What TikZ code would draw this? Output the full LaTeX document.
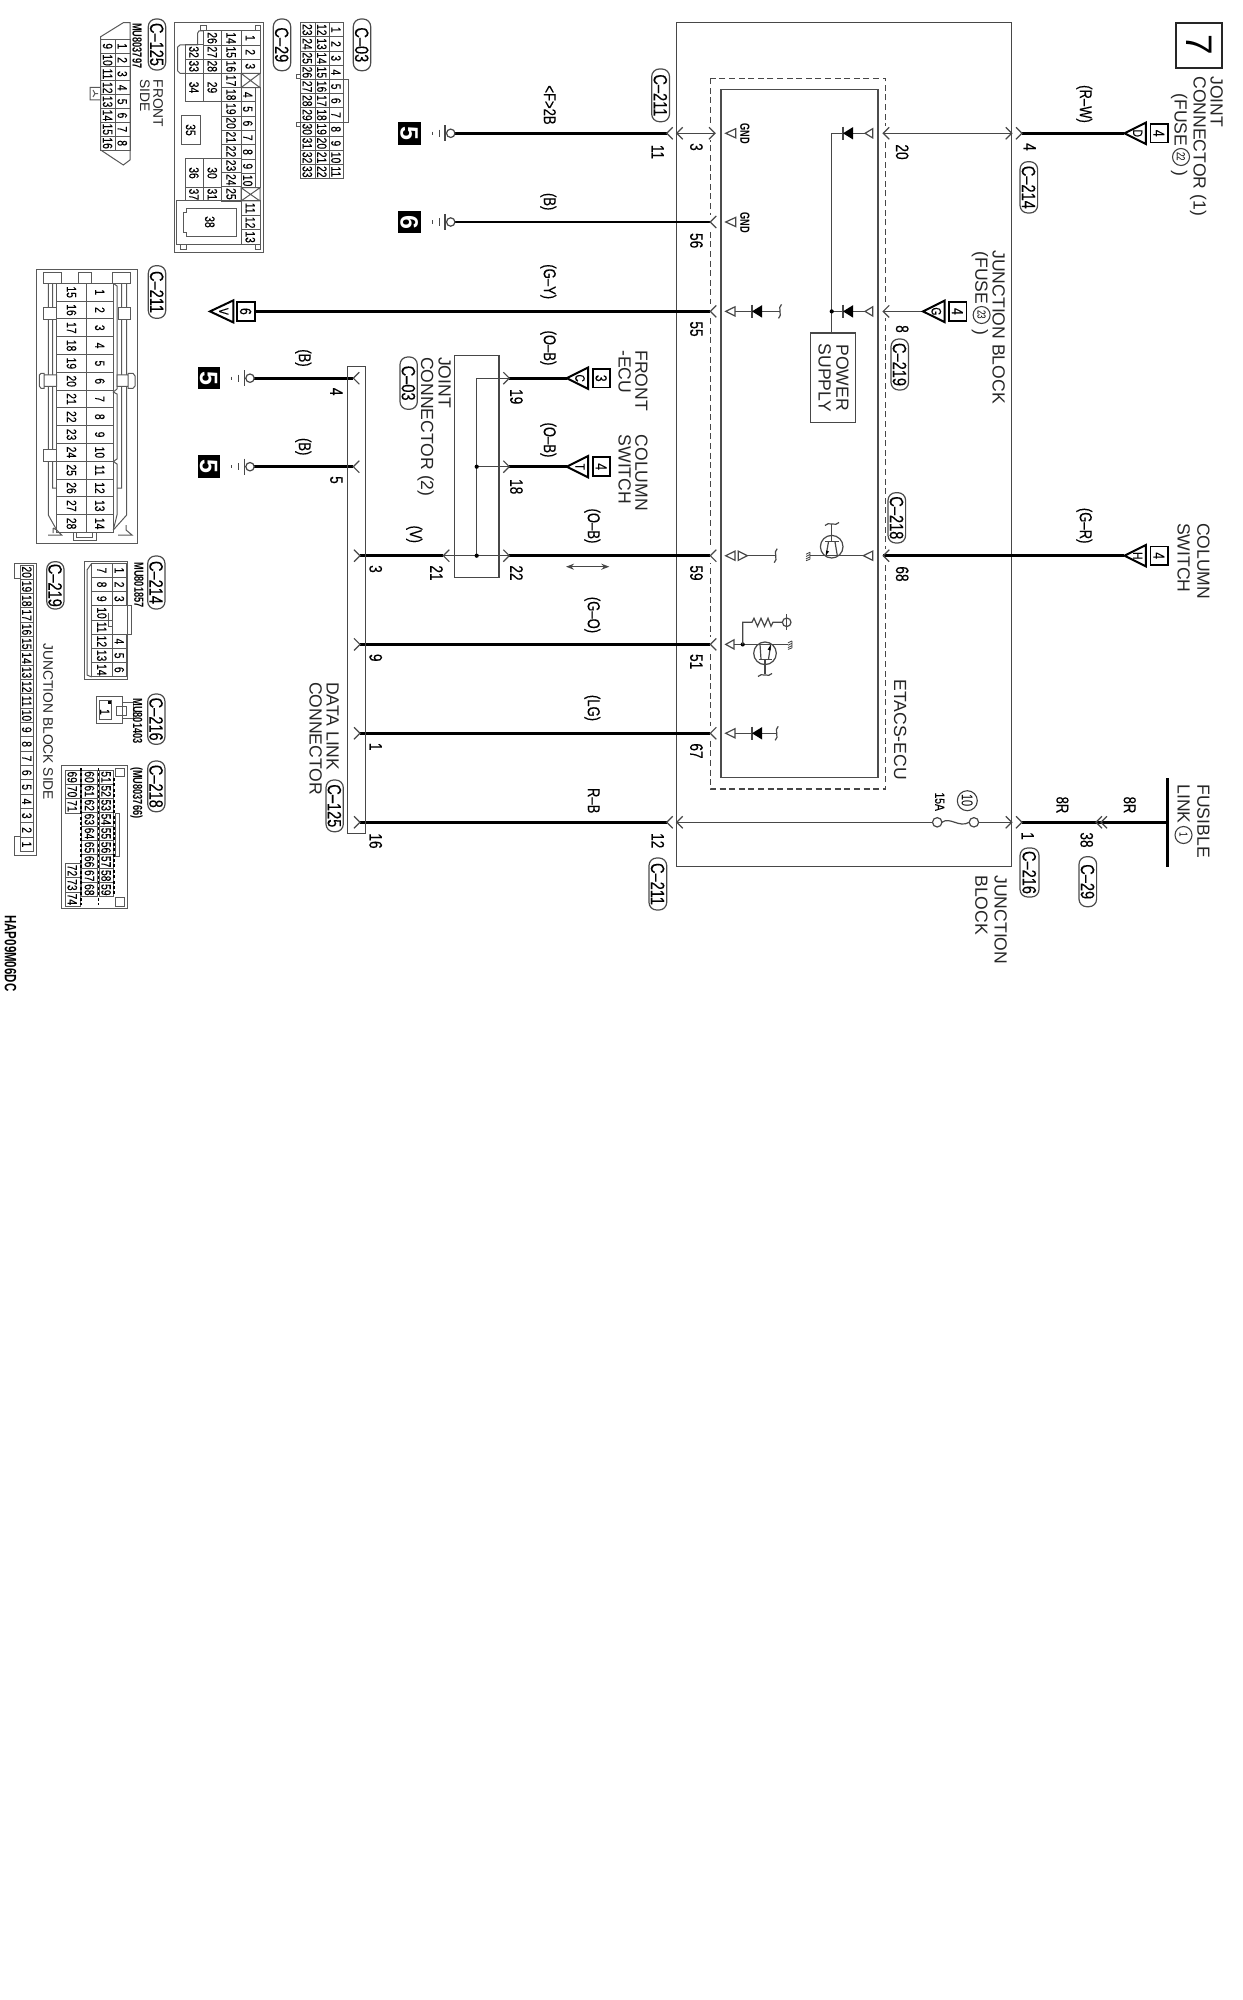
\documentclass[tikz,border=0pt]{standalone}
\usepackage{fontspec}
\usetikzlibrary{arrows.meta}
\setmainfont{Liberation Sans}
\newfontfamily\cond[FakeStretch=0.76,FakeBold=0.25]{Liberation Sans}
\newfontfamily\condn[FakeStretch=0.7]{Liberation Sans}
\newcounter{nn}
\tikzset{
  thin wire/.style={line width=0.6pt,draw=black!72},
  thick wire/.style={line width=1.4pt,draw=black},
  tab/.style={line width=0.5pt,draw=black!65},
  rt/.style={rotate=-90,inner sep=0pt,text depth=0pt},
  big/.style={rt,font=\fontsize{8.8}{10}\selectfont,text height=6.3pt,text=black!85},
  mid/.style={rt,font=\fontsize{6.9}{8}\selectfont,text height=5pt,text=black!85},
  num/.style={rt,font=\cond\fontsize{9}{10}\selectfont,text height=6.5pt},
  lbl/.style={rt,font=\cond\fontsize{8.6}{10}\selectfont,text height=6.2pt},
  cell/.style={rt,font=\cond\fontsize{6.8}{8}\selectfont,text height=4.9pt},
  boxn/.style={rt,font=\cond\fontsize{8}{8}\selectfont,text height=5.8pt},
  tiny/.style={rt,font=\condn\bfseries\fontsize{6.6}{8}\selectfont,text height=4.7pt},
  hap/.style={rt,font=\condn\bfseries\fontsize{8.2}{9}\selectfont,text height=5.9pt},
  pill/.style={rt,draw=black!70,line width=0.6pt,rounded corners=3.8pt,font=\cond\fontsize{9.6}{10}\selectfont,text height=6.9pt},
}
\newcommand\Tx[4]{\stepcounter{nn}\node[#1,anchor=west] (n\thenn) at (#2,#3) {#4};}
\newcommand\Tc[4]{\stepcounter{nn}\node[#1] (n\thenn) at (#2,#3) {#4};}
\newcommand\Pill[5]{\stepcounter{nn}\pgfmathsetmacro\pw{(#4-#3)*0.5}\pgfmathsetmacro\ph{(#2-#1)*0.5}%
  \node[pill,minimum width=\pw pt,minimum height=\ph pt] (n\thenn) at ({(#1+#2)/2},{(#3+#4)/2}) {#5};}
\newcommand\CellCol[5]{\foreach \n [count=\i from 0] in {#5}{%
  \pgfmathsetmacro\ya{#3+\i*#4}\pgfmathsetmacro\yb{\ya+#4}\pgfmathsetmacro\xm{(#1+#2)/2}\pgfmathsetmacro\ym{\ya+#4/2}%
  \draw[tab] (#1,\ya) rectangle (#2,\yb);%
  \stepcounter{nn}\node[cell] (n\thenn) at (\xm,\ym) {\n};}}
% chevrons: apex at x, arms towards the open side
\newcommand\ChR[2]{\draw[thin wire] (#1-6,#2-6) -- (#1,#2) -- (#1-6,#2+6);}
\newcommand\ChL[2]{\draw[thin wire] (#1+6,#2-6) -- (#1,#2) -- (#1+6,#2+6);}
\newcommand\Gap[2]{\fill[white] (#1-2,#2-7) rectangle (#1+2,#2+7);}
\newcommand\TriL[3]{\draw[thin wire,fill=white] (#1,#3) -- (#2,#3-4.6) -- (#2,#3+4.6) -- cycle;}
\newcommand\Conn[4]{% apex, y, letter, number
  \draw[line width=1pt,fill=white] (#1,#2) -- (#1+21.5,#2-10.7) -- (#1+21.5,#2+10.7) -- cycle;
  \Tc{cell}{#1+13.5}{#2}{#3}
  \draw[line width=0.9pt] (#1+26,#2-9.3) rectangle (#1+43.5,#2+9.3);
  \Tc{boxn}{#1+34.7}{#2}{#4}}
\newcommand\Gnd[3]{% circle x, y, digit
  \draw[thin wire] (#1,#2) circle[radius=4.2];
  \draw[thin wire] (#1-5.7,#2-8) -- (#1-5.7,#2+8) (#1-5.7,#2) -- (#1-4.2,#2);
  \draw[thin wire] (#1-11.4,#2-3.6) -- (#1-11.4,#2+3.6);
  \draw[thin wire] (#1-18.4,#2-1.6) -- (#1-18.4,#2+1.6);
  \stepcounter{nn}\node[rotate=-90,fill=black,text=white,inner sep=0pt,minimum size=11.3pt,font=\bfseries\fontsize{12.5}{13}\selectfont,text height=9pt,text depth=0pt] (n\thenn) at (#1-41,#2) {#3};}
\newcommand\Sq[2]{\draw[thin wire] (#1+1.5,#2-7) .. controls (#1-3,#2-4) and (#1+3,#2+4) .. (#1-1.5,#2+7);}
\newcommand\SqH[2]{\draw[thin wire] (#1-7,#2+1.5) .. controls (#1-4,#2-3) and (#1+4,#2+3) .. (#1+7,#2-1.5);}
\newcommand\Diode[2]{% bar x, y: apex at left, base right
  \draw[thin wire] (#1,#2-6.7) -- (#1,#2+6.7);
  \fill (#1,#2) -- (#1+10,#2-6.2) -- (#1+10,#2+6.2) -- cycle;}
\newcommand\Dot[2]{\fill (#1,#2) circle[radius=2.1];}
\newcommand\Hatch[2]{\draw[line width=0.4pt,draw=black!75] (#1,#2-3.5) -- (#1,#2+3.5)
   (#1,#2-3.5) -- (#1-4,#2-1.5) (#1,#2-1.2) -- (#1-4,#2+0.8) (#1,#2+1.2) -- (#1-4,#2+3.2) (#1,#2+3.5) -- (#1-4,#2+5);}
\newcommand\Circled[4]{\stepcounter{nn}\node[rt,draw=black!75,line width=0.55pt,circle,minimum size=#3,font=\condn\fontsize{#4}{8}\selectfont] (n\thenn) at (#1,#2) {\cntxt};}
\begin{document}
\begin{tikzpicture}[x=0.5pt,y=-0.5pt]
\useasboundingbox (0,0) rectangle (1242,2000);
\fill[white] (0,0) rectangle (1242,2000);

% ---- rows
\def\Ra{133.3}\def\Rb{222}\def\Rc{311.4}\def\Rd{378.2}\def\Re{466.7}\def\Rf{555.7}\def\Rg{644.4}\def\Rh{733.3}\def\Ri{822.3}

% ---- frames
\draw[thin wire] (676.7,22.7) rectangle (1011.7,866.7);
\draw[thin wire,dash pattern=on 3pt off 1.8pt] (710.3,78.3) rectangle (885.5,789);
\draw[line width=0.7pt,draw=black!70] (721,89.3) rectangle (877.8,777.7);
\Gap{710.3}{\Ra}\Gap{710.3}{\Rb}\Gap{710.3}{\Rc}\Gap{710.3}{\Rf}\Gap{710.3}{\Rg}\Gap{710.3}{\Rh}
\Gap{885.5}{\Ra}\Gap{885.5}{\Rc}\Gap{885.5}{\Rf}

% ---- big number box
\draw[line width=1pt,draw=black!85] (1176,22.7) rectangle (1222,67.7);
\stepcounter{nn}\node[rt,font=\fontsize{18.5}{20}\selectfont] (n\thenn) at (1199,45) {7};

% ---- named pin points
\coordinate (j11) at (666.7,\Ra); \coordinate (g1) at (454.9,\Ra);
\coordinate (j3) at (676.7,\Ra);  \coordinate (e3) at (715,\Ra);
\coordinate (j4a) at (1011.7,\Ra);\coordinate (e20) at (883.2,\Ra);
\coordinate (j4) at (1022,\Ra);   \coordinate (dD) at (1124.4,\Ra);
\coordinate (g2) at (454.9,\Rb);  \coordinate (e56) at (710.3,\Rb);
\coordinate (b6) at (255,\Rc);    \coordinate (e55) at (710.3,\Rc);
\coordinate (e8) at (883.2,\Rc);  \coordinate (dG) at (923,\Rc);
\coordinate (g4) at (254.2,\Rd);  \coordinate (d4) at (353.3,\Rd);
\coordinate (g5) at (254.2,\Re);  \coordinate (d5) at (353.3,\Re);
\coordinate (p19) at (509.3,\Rd); \coordinate (dC) at (566.7,\Rd);
\coordinate (p18) at (509.3,\Re); \coordinate (dT) at (566.7,\Re);
\coordinate (d3) at (360,\Rf);    \coordinate (p21) at (443.3,\Rf);
\coordinate (p22) at (509.3,\Rf); \coordinate (e59) at (710.3,\Rf);
\coordinate (e68) at (883.2,\Rf); \coordinate (dH) at (1124.4,\Rf);
\coordinate (d9) at (360,\Rg);    \coordinate (e51) at (710.3,\Rg);
\coordinate (d1) at (360,\Rh);    \coordinate (e67) at (710.3,\Rh);
\coordinate (d16) at (360,\Ri);   \coordinate (j12) at (666.7,\Ri);
\coordinate (j12b) at (676.7,\Ri);\coordinate (fa) at (932.5,\Ri);
\coordinate (fb) at (978.6,\Ri);  \coordinate (j1a) at (1011.7,\Ri);
\coordinate (j1) at (1022,\Ri);   \coordinate (bus) at (1167.7,\Ri);
\coordinate (jt) at (476.7,\Rd);  \coordinate (jb) at (476.7,\Rf);
\coordinate (jm) at (476.7,\Re);

% ---- thick wires
\draw[thick wire] (g1) -- (j11);
\draw[thick wire] (j4) -- (dD);
\draw[thick wire] (g2) -- (e56);
\draw[thick wire] (b6) -- (e55);
\draw[thick wire] (g4) -- (d4);
\draw[thick wire] (g5) -- (d5);
\draw[thick wire] (p19) -- (dC);
\draw[thick wire] (p18) -- (dT);
\draw[thick wire] (d3) -- (p21);
\draw[thick wire] (p22) -- (e59);
\draw[thick wire] (e68) -- (dH);
\draw[thick wire] (d9) -- (e51);
\draw[thick wire] (d1) -- (e67);
\draw[thick wire] (d16) -- (j12);
\draw[thick wire] (j1) -- (bus);
\draw[line width=1.6pt] (1167.7,778) -- (1167.7,866.7);

% ---- thin wires
\draw[thin wire] (j3) -- (e3);
\draw[thin wire] (e20) -- (j4a);
\draw[thin wire] (e8) -- (dG);
\draw[thin wire] (j12b) -- (fa);
\draw[thin wire] (fb) -- (j1a);
\draw[thin wire] (p21) -- (p22);
\draw[thin wire] (jt) -- (jb);
\draw[thin wire] (jt) -- (p19);
\draw[thin wire] (jm) -- (p18);

% ---- chevrons
\ChL{666.7}{\Ra}\ChL{676.7}{\Ra}\ChR{715}{\Ra}\ChL{883.2}{\Ra}\ChR{1011.7}{\Ra}\ChR{1022}{\Ra}
\ChL{710.3}{\Rb}\ChL{710.3}{\Rc}\ChL{883.2}{\Rc}
\ChL{353.3}{\Rd}\ChL{353.3}{\Re}\ChR{509.3}{\Rd}\ChR{509.3}{\Re}
\ChR{360}{\Rf}\ChL{443.3}{\Rf}\ChR{509.3}{\Rf}\ChL{710.3}{\Rf}\ChL{883.2}{\Rf}
\ChR{360}{\Rg}\ChL{710.3}{\Rg}\ChR{360}{\Rh}\ChL{710.3}{\Rh}
\ChR{360}{\Ri}\ChL{666.7}{\Ri}\ChL{676.7}{\Ri}\ChR{1011.7}{\Ri}\ChR{1022}{\Ri}
\ChL{1096}{\Ri}\ChL{1101}{\Ri}

% ---- inline connectors
\Conn{1124.4}{\Ra}{D}{4}
\Conn{923}{\Rc}{G}{4}
\Conn{566.7}{\Rd}{C}{3}
\Conn{566.7}{\Re}{T}{4}
\Conn{1124.4}{\Rf}{H}{4}
% connector V (box on the wire side)
\draw[line width=1pt,fill=white] (210,\Rc) -- (233.3,\Rc-11) -- (233.3,\Rc+11) -- cycle;
\Tc{cell}{224}{\Rc}{V}
\draw[line width=0.9pt] (236.7,\Rc-9.3) rectangle (255,\Rc+9.3);
\Tc{boxn}{245.9}{\Rc}{6}

% ---- grounds
\Gnd{450.7}{\Ra}{5}
\Gnd{450.7}{\Rb}{6}
\Gnd{250}{\Rd}{5}
\Gnd{250}{\Re}{5}

% ---- joint connector 2 and data link
\draw[thin wire] (454.3,355.7) rectangle (499,577.7);
\Dot{476.7}{\Re}\Dot{476.7}{\Rf}
\draw[thin wire] (347.7,366.7) rectangle (365.7,833.3);

% ---- ECU inner
\TriL{725.7}{735.7}{\Ra}
\TriL{725.7}{735.7}{\Rb}
\Tc{tiny}{745}{134}{GND}
\Tc{tiny}{745}{223}{GND}
% diode bus
\TriL{865}{872.7}{\Ra}
\TriL{865}{872.7}{\Rc}
\draw[thin wire] (865,\Ra) -- (843,\Ra) -- (831.7,\Ra) -- (831.7,333);
\draw[thin wire] (865,\Rc) -- (831.7,\Rc);
\Diode{843}{\Ra}\Diode{843}{\Rc}
\Dot{831.7}{\Rc}
\draw[thin wire] (810.6,333) rectangle (855.4,422.3);
\Tc{big}{842.6}{377.7}{POWER}
\Tc{big}{825}{377.7}{SUPPLY}
% row 3 / row 8 diodes
\TriL{725.7}{735}{\Rc}
\draw[thin wire] (735,\Rc) -- (780,\Rc);
\Diode{752}{\Rc}\Sq{780}{\Rc}
\TriL{725.7}{735}{\Rh}
\draw[thin wire] (735,\Rh) -- (776.7,\Rh);
\Diode{752}{\Rh}\Sq{776.7}{\Rh}
% row 6
\TriL{725.7}{735}{\Rf}
\draw[thin wire,fill=white] (747.3,\Rf) -- (738.3,\Rf-4.6) -- (738.3,\Rf+4.6) -- cycle;
\draw[thin wire] (747.3,\Rf) -- (775.7,\Rf);
\Sq{775.7}{\Rf}
\draw[thin wire] (810,\Rf) -- (863.3,\Rf);
\TriL{863.3}{872.7}{\Rf}
\Hatch{810}{\Rf}
\draw[thin wire] (831.7,546.7) circle[radius=11.3];
\draw[thin wire] (825,541.7) -- (838.5,541.7) (831.7,541.7) -- (831.7,524);
\draw[thin wire] (828.5,541.7) -- (826,\Rf) (835,541.7) -- (837.3,\Rf);
\fill (826,\Rf-0.5) -- (826.2,550.5) -- (829,551.5) -- cycle;
\SqH{832}{524}
% row 7
\TriL{725.7}{734}{\Rg}
\draw[thin wire] (734,\Rg) -- (788,\Rg);
\Hatch{792}{\Rg}
\Dot{742.7}{\Rg}
\draw[thin wire] (742.7,\Rg) -- (742.7,622.3) -- (752,622.3) -- (754,618.3) -- (757.5,626.3) -- (761,618.3) -- (764.5,626.3) -- (768,618.3) -- (771,626.3) -- (773,622.3) -- (782.5,622.3);
\draw[thin wire] (786.7,622.3) circle[radius=4.3];
\draw[thin wire] (786.7,614.3) -- (786.7,630.3);
\draw[thin wire] (765,653.3) circle[radius=11.3];
\draw[thin wire] (758.5,659.3) -- (771.5,659.3) (765,659.3) -- (765,674);
\draw[thin wire] (761,659.3) -- (760,\Rg) (768.5,659.3) -- (770.7,\Rg);
\fill (770.7,\Rg+0.5) -- (767.7,649.5) -- (770.7,650.5) -- cycle;
\SqH{765}{675}

% ---- fuse
\draw[thin wire] (937.2,\Ri) circle[radius=4.7];
\draw[thin wire] (973.9,\Ri) circle[radius=4.7];
\draw[thin wire] (941.9,\Ri) .. controls (950,\Ri-6) and (959,\Ri+6) .. (969.2,\Ri);
\Tc{cell}{940}{801.7}{15A}
\def\cntxt{10}\Circled{967.3}{800.7}{10pt}{7.8}

% ---- big labels
\Tx{big}{1217}{76}{JOINT}
\Tx{big}{1200}{76}{CONNECTOR (1)}
\Tx{big}{1181}{93}{(FUSE \hspace{9.5pt})}
\def\cntxt{22}\Circled{1181}{157}{8.5pt}{5.8}
\Tx{big}{999}{250}{JUNCTION BLOCK}
\Tx{big}{981.6}{251}{(FUSE \hspace{10pt})}
\def\cntxt{23}\Circled{981.6}{315}{8.5pt}{5.8}
\Tx{big}{1203.6}{522.7}{COLUMN}
\Tx{big}{1184}{522.7}{SWITCH}
\Tx{big}{1203.6}{784}{FUSIBLE}
\Tx{big}{1184}{784}{LINK}
\def\cntxt{1}\Circled{1183.5}{835}{8.5pt}{5.8}
\Tx{big}{1001}{875}{JUNCTION}
\Tx{big}{981.6}{875}{BLOCK}
\Tx{big}{900.5}{679}{ETACS-ECU}
\Tx{big}{641.7}{350}{FRONT}
\Tx{big}{625}{350}{-ECU}
\Tx{big}{641.7}{434.3}{COLUMN}
\Tx{big}{625}{434.3}{SWITCH}
\Tx{big}{445}{356.7}{JOINT}
\Tx{big}{427.3}{356.7}{CONNECTOR (2)}
\Tx{big}{333}{681.7}{DATA LINK}
\Tx{big}{316}{681.7}{CONNECTOR}

% ---- wire colour labels
\Tc{lbl}{1086}{104}{(R–W)}
\Tc{lbl}{1086}{525.7}{(G–R)}
\Tc{lbl}{550}{105}{<F>2B}
\Tc{lbl}{550}{201.7}{(B)}
\Tc{lbl}{550}{281.7}{(G–Y)}
\Tc{lbl}{550}{348}{(O–B)}
\Tc{lbl}{550}{440}{(O–B)}
\Tc{lbl}{305}{358}{(B)}
\Tc{lbl}{305}{446.7}{(B)}
\Tc{lbl}{416}{534.3}{(V)}
\Tc{lbl}{594}{526}{(O–B)}
\Tc{lbl}{594}{615}{(G–O)}
\Tc{lbl}{594}{708}{(LG)}
\Tc{lbl}{594}{800.7}{R–B}
\Tc{lbl}{1062.7}{805}{8R}
\Tc{lbl}{1130}{805}{8R}
\draw[thin wire,{Stealth[length=4pt,width=3pt,open]}-{Stealth[length=4pt,width=3pt,open]}] (566,566.7) -- (609.3,566.7);

% ---- pin numbers
\Tc{num}{658}{152}{11}
\Tc{num}{696.7}{147}{3}
\Tc{num}{902.5}{152}{20}
\Tc{num}{1030}{147}{4}
\Tc{num}{696.7}{240.7}{56}
\Tc{num}{696.7}{329}{55}
\Tc{num}{902.5}{329}{8}
\Tc{num}{336.7}{391.7}{4}
\Tc{num}{336.7}{480}{5}
\Tc{num}{516.7}{396.7}{19}
\Tc{num}{516.7}{486.7}{18}
\Tc{num}{516.7}{573}{22}
\Tc{num}{436.7}{573}{21}
\Tc{num}{376}{569}{3}
\Tc{num}{376}{657.7}{9}
\Tc{num}{376}{746.7}{1}
\Tc{num}{376}{841}{16}
\Tc{num}{696.7}{573}{59}
\Tc{num}{696.7}{661.7}{51}
\Tc{num}{696.7}{751}{67}
\Tc{num}{902.5}{574}{68}
\Tc{num}{658}{840.7}{12}
\Tc{num}{1028}{836}{1}
\Tc{num}{1087}{840}{38}

% ---- pills
\Pill{651.7}{669.5}{69}{121.7}{C–211}
\Pill{1020}{1037.6}{161.7}{213}{C–214}
\Pill{891}{908.5}{339}{390}{C–219}
\Pill{888}{905.6}{492.7}{543}{C–218}
\Pill{400}{417.3}{357}{409.3}{C–03}
\Pill{326}{343.3}{780}{831.7}{C–125}
\Pill{649}{666.7}{858}{910}{C–211}
\Pill{1020}{1039}{848}{897}{C–216}
\Pill{1079}{1096.6}{856.7}{906.7}{C–29}
\Pill{353.3}{370.7}{19}{70.7}{C–03}
\Pill{273.3}{290.7}{19}{70.7}{C–29}
\Pill{148.3}{165.7}{19}{70}{C–125}
\Pill{148.3}{165.7}{265.7}{318.3}{C–211}
\Pill{147.7}{165}{556}{609}{C–214}
\Pill{147.7}{165}{694}{744.3}{C–216}
\Pill{147.7}{165}{761}{811.7}{C–218}
\Pill{46.7}{64}{561.7}{609}{C–219}

% ---- C-03 view
\CellCol{329}{343.3}{22.7}{14.2}{1,2,3,4,5,6,7,8,9,10,11}
\CellCol{315}{329}{22.7}{14.2}{12,13,14,15,16,17,18,19,20,21,22}
\CellCol{300}{315}{22.7}{14.2}{23,24,25,26,27,28,29,30,31,32,33}
\draw[tab] (343.3,80) -- (348,80) -- (348,122.3) -- (343.3,122.3);
\draw[tab] (296,75) rectangle (300,79) (296,122.3) rectangle (300,126.7);

% ---- C-29 view
\draw[tab] (174.7,22.7) rectangle (263,252.3);
\CellCol{241}{260}{31}{14.1}{1,2,3}
\draw[tab] (241,73.3) rectangle (260,87.7) (241,73.3) -- (260,87.7) (241,87.7) -- (260,73.3);
\CellCol{241}{255}{87.7}{14.3}{4,5,6,7,8,9,10}
\draw[tab] (255,87.7) rectangle (260,187.7);
\draw[tab] (241,187.7) rectangle (260,201) (241,187.7) -- (260,201) (241,201) -- (260,187.7);
\CellCol{241}{260}{201}{14.45}{11,12,13}
\CellCol{221.7}{241}{31}{14.17}{14,15,16,17,18,19,20,21,22,23,24,25}
\CellCol{203.3}{221.7}{31}{14.1}{26,27,28}
\CellCol{203.3}{221.7}{73.3}{28.4}{29}
\CellCol{203.3}{221.7}{158.3}{29.4}{30}
\CellCol{203.3}{221.7}{187.7}{13.3}{31}
\CellCol{185}{203.3}{45}{14.15}{32,33}
\CellCol{185}{203.3}{73.3}{28.4}{34}
\CellCol{181.7}{200}{115.7}{28.6}{35}
\CellCol{185}{203.3}{158.3}{29.4}{36}
\CellCol{185}{203.3}{187.7}{13.3}{37}
\draw[tab] (176,201) rectangle (241,244.3);
\draw[tab] (183.5,213) -- (186,213) -- (186,208.5) -- (236,208.5) -- (236,236.7) -- (186,236.7) -- (186,233) -- (183.5,233) -- cycle;
\Tc{cell}{210}{222}{38}
\draw[tab] (203.3,31) -- (199,31) -- (197.7,33) -- (197.7,45) -- (180,45) -- (177.7,47) -- (177.7,71) -- (180,73.3) -- (185,73.3);
\draw[tab] (200,26) rectangle (206,31) (255,26) rectangle (260,31) (180,244.3) rectangle (186,249.3) (255,244.3) rectangle (260,249.3);

% ---- C-125 view
\draw[tab] (130,22.7) -- (123.3,22.7) -- (100.7,36.7) -- (100.7,150) -- (123.3,165) -- (130,160) -- cycle;
\CellCol{115}{130}{39.3}{13.85}{1,2,3,4,5,6,7,8}
\CellCol{100.7}{115}{39.3}{13.85}{9,10,11,12,13,14,15,16}
\draw[tab] (90,87.3) rectangle (100.7,100) (98,93.6) -- (95,93.6) -- (93,90) (95,93.6) -- (93,97);
\Tx{tiny}{137.3}{22.7}{MU803797}
\Tx{mid}{158.3}{79.3}{FRONT}
\Tx{mid}{145}{79.3}{SIDE}

% ---- C-211 view
\draw[tab] (36.7,269.3) rectangle (137.7,543.3);
\CellCol{86.7}{113.3}{283.3}{17.8}{1,2,3,4,5,6,7,8,9,10,11,12,13,14}
\CellCol{56.7}{86.7}{283.3}{17.8}{15,16,17,18,19,20,21,22,23,24,25,26,27,28}
\draw[tab] (43.3,272.7) rectangle (61.7,283.3) (78.3,272.7) rectangle (91.7,283.3) (112.7,272.7) rectangle (130.7,283.3);
\draw[tab] (48.3,283.3) -- (48.3,515) -- (56.7,530) (52.7,283.3) -- (52.7,488) -- (56.7,488);
\draw[tab] (126.7,283.3) -- (126.7,515) -- (113.3,530) (121.7,283.3) -- (121.7,488) -- (117,488);
\draw[tab] (113.3,283.3) -- (117,286) -- (117,389) -- (113.3,392) -- (117,394) -- (117,459) -- (113.3,461.5) -- (117,464) -- (117,515) -- (113.3,530);
\draw[tab,fill=white] (43.3,307.7) rectangle (56.7,319.3) (118.3,307.7) rectangle (130.7,319.3);
\draw[tab,fill=white] (39.3,375) -- (41,373.3) -- (44,373.3) -- (44,388.3) -- (41,388.3) -- (39.3,386) -- cycle (44,375) rectangle (56.7,386.5);
\draw[tab,fill=white] (117,375) rectangle (128,386.5) (128,373.3) -- (133,373.3) -- (135,376) -- (135,386) -- (133,388.3) -- (128,388.3) -- cycle;
\draw[tab,fill=white] (43.3,450) rectangle (56.7,461.7);
\draw[tab] (48,535) -- (61.7,535) -- (56.7,530) -- (53,528) (53,528) -- (53,533) (118,535) -- (132,535) -- (126,530) -- (126,525);
\draw[tab] (73.3,532) rectangle (96,540) (76.5,532) -- (76.5,537) -- (92.8,537) -- (92.8,532);

% ---- C-214 view
\draw[tab] (84.3,561.7) rectangle (127.7,679.3);
\CellCol{112.3}{126.7}{563.3}{14.2}{1,2,3}
\CellCol{112.3}{126.7}{634.3}{14.2}{4,5,6}
\CellCol{91.7}{112.3}{563.3}{14.2}{7,8,9,10,11,12,13,14}
\draw[tab] (127.7,605.7) -- (131,605.7) -- (131,634.3) -- (127.7,634.3);
\draw[tab] (108.3,613.3) -- (108.3,626.7) -- (112.3,626.7);
\draw[tab] (91.7,563.3) -- (87,570) -- (87,675) -- (91.7,677);
\Tx{tiny}{139}{562}{MU801857}

% ---- C-216 view
\draw[tab] (96.7,696.7) rectangle (122,723.3);
\draw[tab] (122,702) -- (133.3,702) -- (133.3,718) -- (122,718);
\draw[tab] (99,700) rectangle (111.7,719.3);
\fill (108.3,700.5) rectangle (111.2,704);
\Tc{cell}{105}{712}{1}
\draw[tab] (116.7,706.7) rectangle (126,715.7);
\Tx{tiny}{137.7}{698}{MU801403}

% ---- C-218 view
\draw[tab] (61.7,765) rectangle (127.3,908.3);
\CellCol{99.3}{113.3}{770}{14.1}{51,52,53,54,55,56,57,58,59}
\CellCol{81.7}{97.7}{770}{14.1}{60,61,62,63,64,65,66,67,68}
\CellCol{65}{80}{770}{14.4}{69,70,71}
\CellCol{65}{80}{863.3}{14.4}{72,73,74}
\draw[line width=0.8pt,dash pattern=on 1.5pt off 1.2pt] (98.5,768) -- (98.5,905) (114,778) -- (114,896) (80.8,768) -- (80.8,905);
\draw[tab] (115,768.3) rectangle (124,776.7) (115,897.3) rectangle (124,906);
\draw[tab] (115,813.3) rectangle (119.3,856.7);
\Tx{tiny}{137.7}{766.7}{(MU803766)}

% ---- C-219 view
\draw[tab] (36,563) -- (14,563) -- (14,578) -- (20.7,578) -- (20.7,836.7) -- (14,836.7) -- (14,855.7) -- (36,855.7) -- cycle;
\CellCol{20.7}{33.3}{565}{14.33}{20,19,18,17,16,15,14,13,12,11,10,9,8,7,6,5,4,3,2,1}
\Tx{mid}{48.3}{643.3}{JUNCTION BLOCK SIDE}
\Tx{hap}{10.7}{915}{HAP09M06DC}
\end{tikzpicture}
\end{document}
